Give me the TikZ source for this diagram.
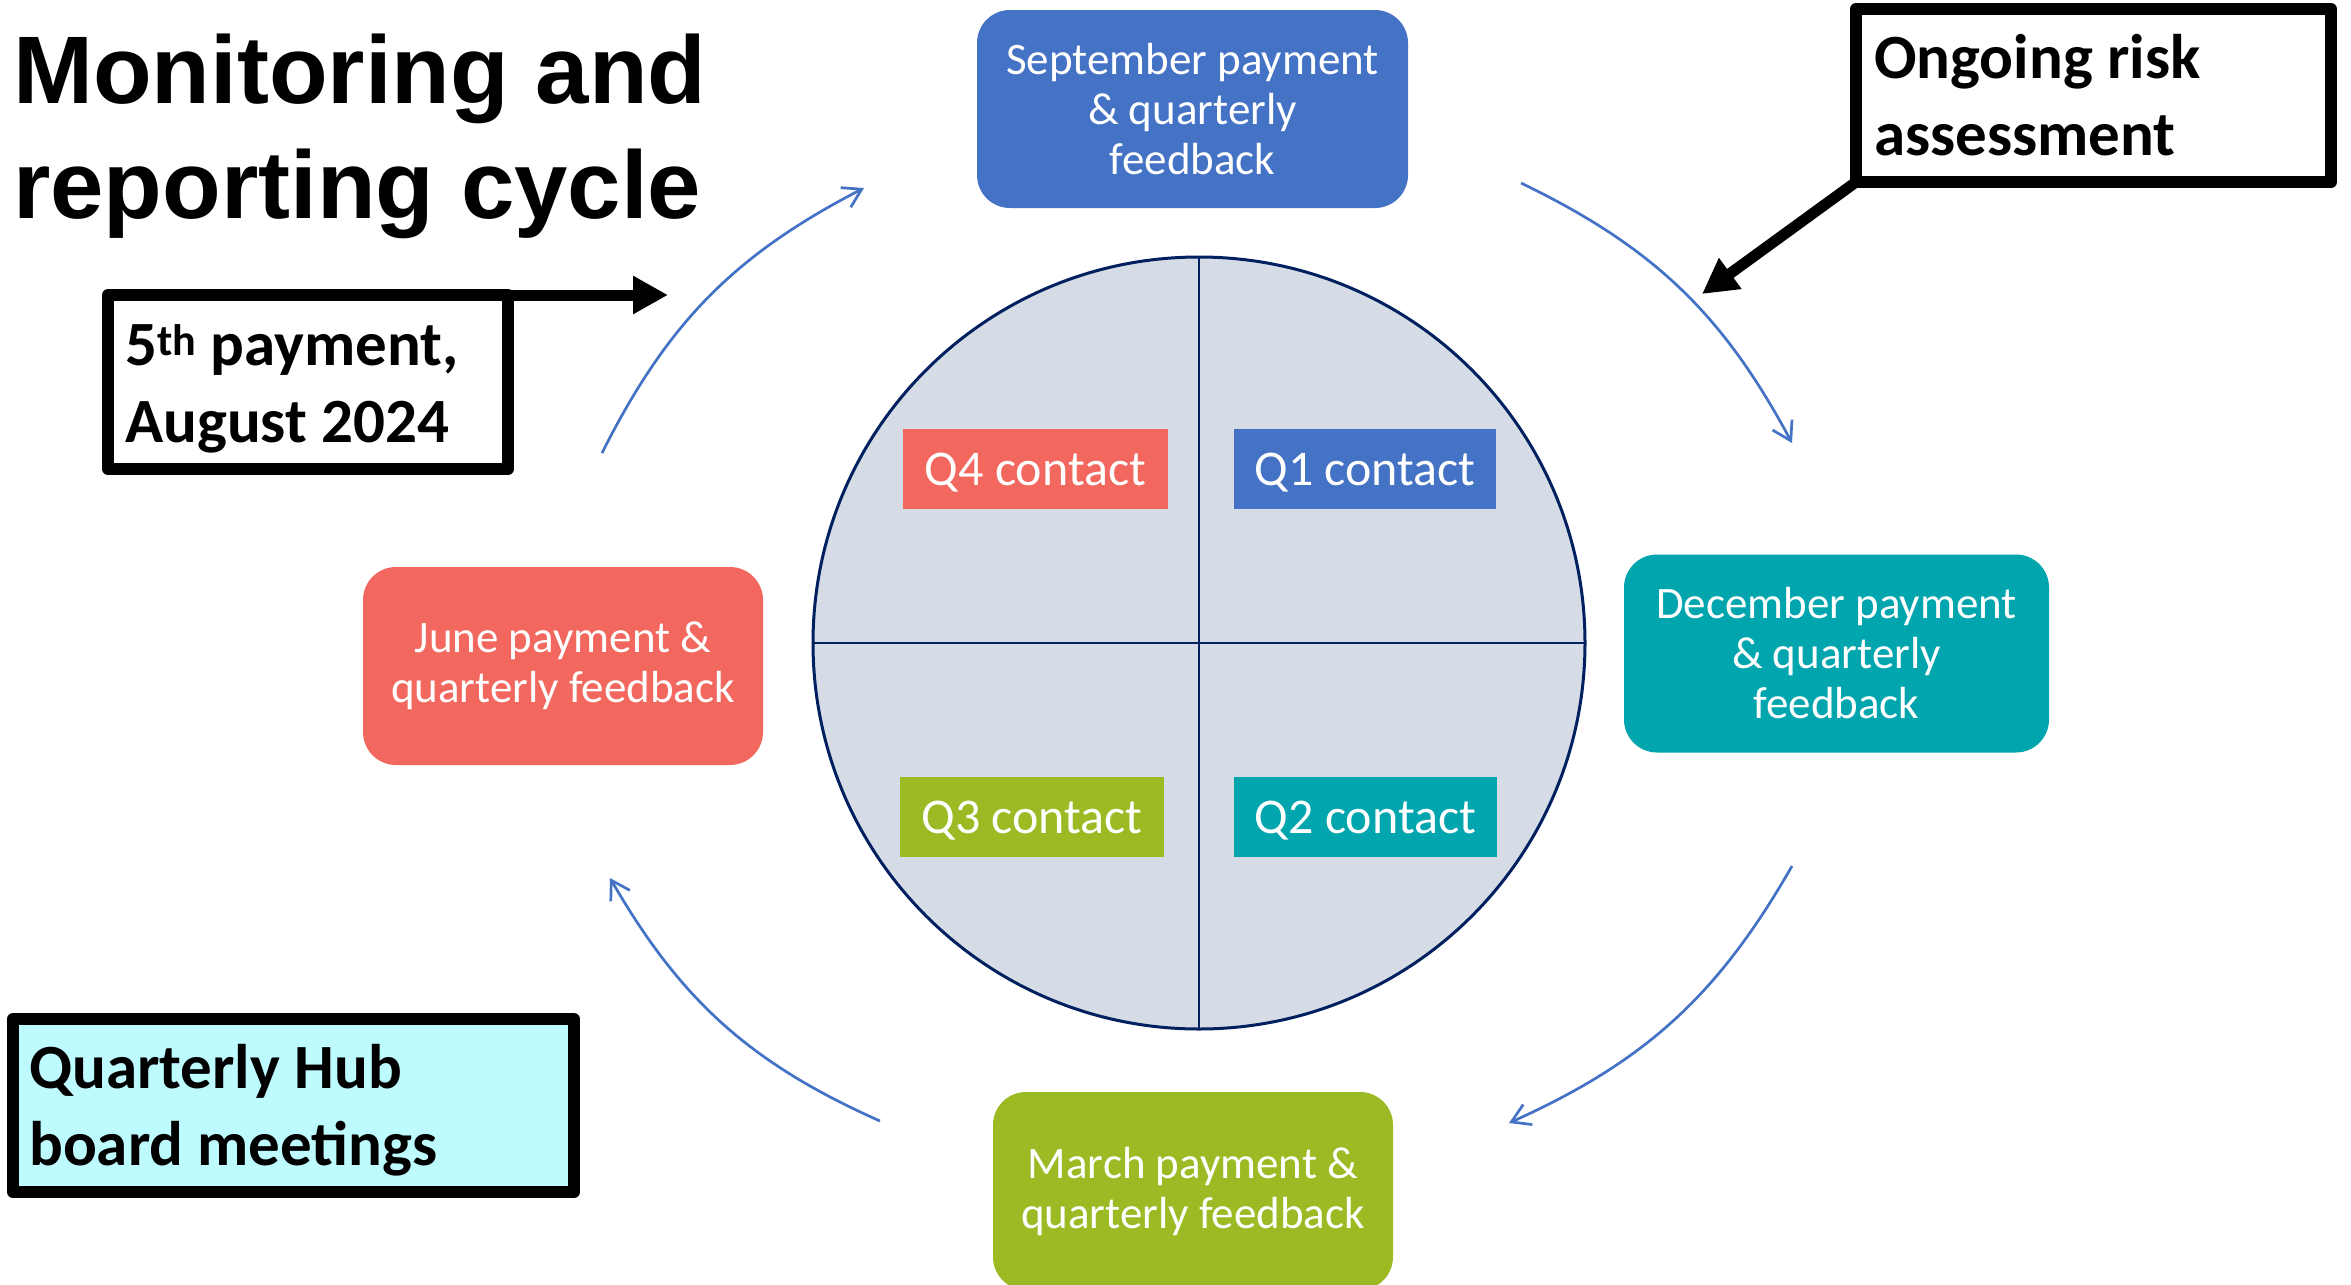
\documentclass[tikz,border=0pt]{standalone}
\usepackage{fontspec}
\setmainfont{Carlito}
\newfontfamily\titlefont{Liberation Sans}
\usetikzlibrary{arrows.meta}
\definecolor{cblue}{HTML}{4472C4}
\definecolor{ccoral}{HTML}{F2685F}
\definecolor{cgreen}{HTML}{9BBA23}
\definecolor{cteal}{HTML}{00A5AE}
\definecolor{cfill}{HTML}{D6DCE5}
\definecolor{cnavy}{HTML}{002060}
\definecolor{ccyan}{HTML}{BEFBFF}
\begin{document}
\begin{tikzpicture}[x=1pt,y=1pt,
  cyclebox/.style={rounded corners=33pt, minimum height=198pt, inner sep=0pt, outer sep=0pt,
    text=white, align=center, font=\fontsize{45}{50}\selectfont},
  qbox/.style={minimum width=264pt, minimum height=80pt, inner sep=0pt, text=white,
    font=\fontsize{50}{60}\selectfont, text height=35pt, text depth=3pt},
  blackbox/.style={draw=black, line width=12pt, line join=round, inner sep=0pt, outer sep=0pt},
  boxtext/.style={font=\fontsize{63}{77}\selectfont\bfseries, align=left, inner sep=0pt, anchor=base west},
  blackarrow/.style={line width=11pt, -{Triangle[length=35pt,width=36pt]}},
  cyclearrow/.style={draw=cblue, line width=2.7pt, -{Straight Barb[length=18pt,width=22pt]}, bend left=18},
  divider/.style={draw=cnavy, line width=2.5pt}
]
\useasboundingbox (0,0) rectangle (2351,-1285);
\fill[white] (0,0) rectangle (2351,-1285);

% title (base anchor = baseline of last line)
\node[anchor=base west, inner sep=0pt, align=left, font=\titlefont\bfseries\fontsize{96}{115}\selectfont] (title) at (13,-218) {Monitoring and\\reporting cycle};

% central circle
\node[circle, draw=cnavy, fill=cfill, line width=3pt, minimum size=772pt, inner sep=0pt, outer sep=0pt] (clock) at (1199,-643) {};
\draw[divider] (clock.north) -- (clock.south);
\draw[divider] (clock.west) -- (clock.east);

% quarter contacts
\node[qbox, fill=ccoral, minimum width=265pt] (q4) at (1035.5,-469) {Q4 contact};
\node[qbox, fill=cblue, minimum width=262pt] (q1) at (1365,-469) {Q1 contact};
\node[qbox, fill=cgreen] (q3) at (1032,-817) {Q3 contact};
\node[qbox, fill=cteal, minimum width=263pt] (q2) at (1365.5,-817) {Q2 contact};

% cycle boxes
\node[cyclebox, fill=cblue, minimum width=431pt] (sep) at (1192.5,-109) {September payment\\\& quarterly\\feedback};
\node[cyclebox, fill=cteal, minimum width=425pt] (dec) at (1836.5,-653.5) {December payment\\\& quarterly\\feedback};
\node[cyclebox, fill=cgreen, minimum width=400pt] (mar) at (1193,-1191) {March payment \&\\quarterly feedback};
\node[cyclebox, fill=ccoral, minimum width=400pt] (jun) at (563,-666) {June payment \&\\quarterly feedback};

% cycle arrows
\coordinate (a1s) at (602,-453);  \coordinate (a1e) at (864,-188);
\coordinate (a2s) at (1521,-183); \coordinate (a2e) at (1792,-443);
\coordinate (a3s) at (1792,-866); \coordinate (a3e) at (1509,-1123);
\coordinate (a4s) at (880,-1121); \coordinate (a4e) at (610,-878);
\draw[cyclearrow] (a1s) to (a1e);
\draw[cyclearrow] (a2s) to (a2e);
\draw[cyclearrow] (a3s) to (a3e);
\draw[cyclearrow] (a4s) to (a4e);

% black callout boxes
\node[blackbox, fill=white, minimum width=400pt, minimum height=174pt] (fifth) at (308,-382) {};
\node[boxtext] (fifthtxt) at (125,-442) {5\textsuperscript{th} payment,\\August 2024};
\coordinate (fifthtip) at (668,-295);
\draw[blackarrow] (fifth.north east) -- (fifthtip);

\node[blackbox, fill=white, minimum width=475pt, minimum height=173pt] (risk) at (2093.5,-95.5) {};
\node[boxtext] (risktxt) at (1874,-155) {Ongoing risk\\assessment};
\coordinate (risktip) at (1702,-294);
\draw[blackarrow] (risk.south west) -- (risktip);

\node[blackbox, fill=ccyan, minimum width=561pt, minimum height=173pt] (hub) at (293.5,-1105.5) {};
\node[boxtext] (hubtxt) at (29,-1165) {Quarterly Hub\\board meetings};
\end{tikzpicture}
\end{document}
